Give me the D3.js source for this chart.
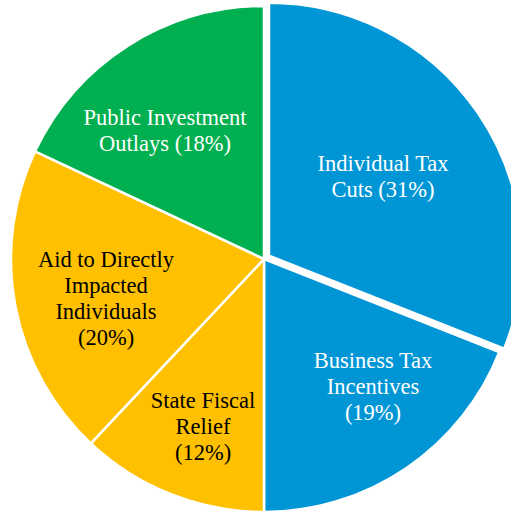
<!DOCTYPE html>
<html>
<head>
<meta charset="utf-8">
<script src="https://cdn.jsdelivr.net/npm/d3@7"></script>
<style>
  body { margin: 0; background: #fff; }
  text.lbl { font-family: "Liberation Serif", "Times New Roman", Times, serif; font-size: 22.5px; }
</style>
</head>
<body>
<div id="chart"></div>
<script>
// slices, clockwise from 12 o'clock
var categories = ["Individual Tax Cuts", "Business Tax Incentives", "State Fiscal Relief",
                  "Aid to Directly Impacted Individuals", "Public Investment Outlays"];
var values = [31, 19, 12, 20, 18];
var labelLines = [
  ["Individual Tax", "Cuts (31%)"],
  ["Business Tax", "Incentives", "(19%)"],
  ["State Fiscal", "Relief", "(12%)"],
  ["Aid to Directly", "Impacted", "Individuals", "(20%)"],
  ["Public Investment", "Outlays (18%)"]
];
var colors = ["#0096D6", "#0096D6", "#FFC000", "#FFC000", "#00B050"];
var textColors = ["#fff", "#fff", "#000", "#000", "#fff"];
var exploded = [6, 0, 0, 0, 0];

var width = 511, height = 512;
var cx = 264, cy = 259, radius = 253;

var svg = d3.select("#chart").append("svg")
  .attr("width", width).attr("height", height)
  .append("g").attr("transform", "translate(" + cx + "," + cy + ")");

var data = categories.map(function(c, i) { return {name: c, value: values[i], i: i}; });

var pie = d3.pie().sort(null).value(function(d) { return d.value; });
var arc = d3.arc().innerRadius(0).outerRadius(radius);
var arcs = pie(data);

svg.selectAll("path.slice")
  .data(arcs)
  .enter()
  .append("path")
    .attr("class", "slice")
    .attr("d", arc)
    .attr("transform", function(d) {
      var a = (d.startAngle + d.endAngle) / 2, off = exploded[d.data.i];
      return "translate(" + (Math.sin(a) * off) + "," + (-Math.cos(a) * off) + ")";
    })
    .attr("fill", function(d) { return colors[d.data.i]; })
    .attr("stroke", "#fff")
    .attr("stroke-width", 2.5);

// label centres (relative to pie centre)
var labelPos = [[119, -83], [109, 127], [-61, 167], [-158, 39], [-99, -129]];
var lineH = 26;

svg.selectAll("text.lbl")
  .data(arcs)
  .enter()
  .append("text")
    .attr("class", "lbl")
    .attr("text-anchor", "middle")
    .attr("fill", function(d) { return textColors[d.data.i]; })
    .each(function(d) {
      var lines = labelLines[d.data.i], p = labelPos[d.data.i];
      var t = d3.select(this);
      var y0 = p[1] - (lines.length - 1) * lineH / 2;
      lines.forEach(function(l, k) {
        t.append("tspan").attr("x", p[0]).attr("y", y0 + k * lineH).attr("dy", "0.35em").text(l);
      });
    });
</script>
</body>
</html>
